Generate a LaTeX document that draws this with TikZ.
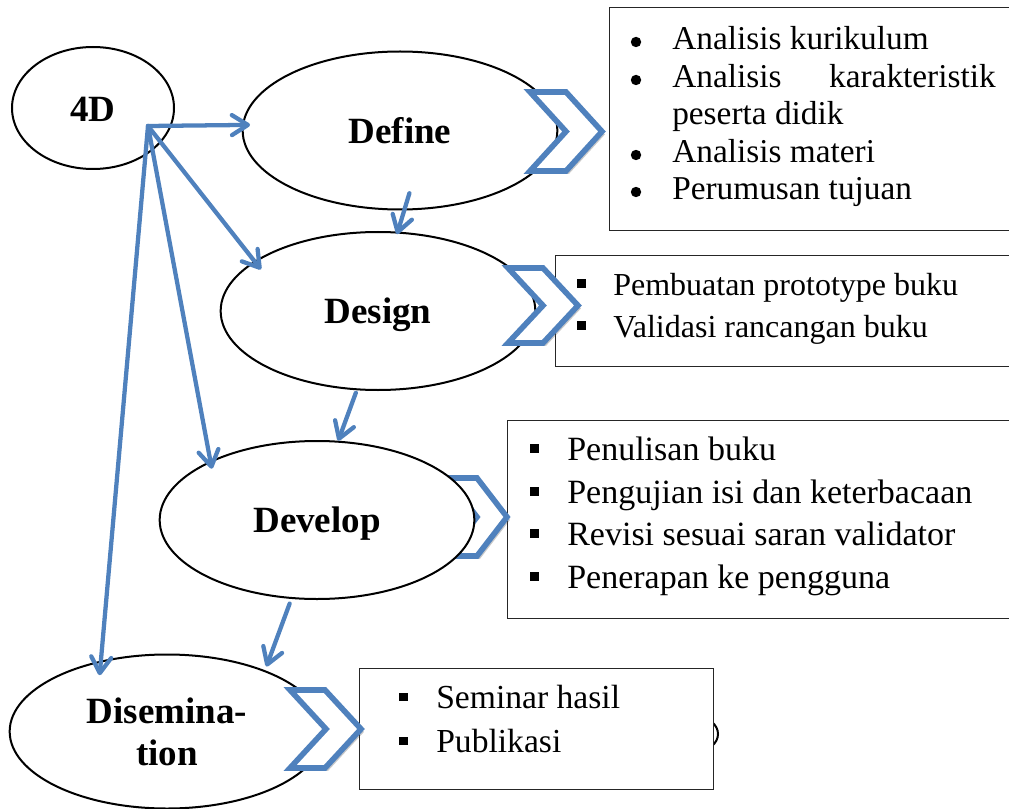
\documentclass[tikz,border=0pt]{standalone}
\usepackage{fontspec}
\setmainfont{Liberation Serif}
\usetikzlibrary{arrows.meta,shapes.geometric,shadows}
\definecolor{stepblue}{HTML}{4F81BD}

% chevron: top-left corner (x,y), width, height, point depth
\newcommand\drawchevron[5]{%
  \draw[chev] (#1,#2) -- ++(#3-#5,0) -- ++(#5,#4/2) -- ++(-#5,#4/2)
    -- ++(-#3+#5,0) -- ++(#5,-#4/2) -- cycle;}

\begin{document}
\begin{tikzpicture}[x=0.75pt,y=-0.75pt,
  phasebase/.style={ellipse, draw=black, line width=1.5pt, fill=white, inner sep=0pt,
    minimum width=236pt, minimum height=118.5pt,
    font=\fontsize{27.75}{31.5}\selectfont\bfseries},
  phase/.style={phasebase, text height=19pt, text depth=0pt},
  listbox/.style={rectangle, draw=black!85, line width=1.1pt, fill=white,
    anchor=north west, inner sep=0pt},
  listitem/.style={anchor=base west, inner sep=0pt},
  conn/.style={draw=stepblue, line width=3.2pt, line cap=round, line join=round,
    -{Straight Barb[length=12pt,width=15pt,round]}},
  chev/.style={draw=stepblue, line width=4.2pt, fill=white,
    drop shadow={shadow xshift=2.2pt, shadow yshift=-2.2pt, opacity=.3, fill=black!70}},
  sq/.style={fill=black},
]
\useasboundingbox (0,0) rectangle (1009,809);

% partly hidden shape behind the last list
\draw[line width=1.5pt, fill=white] (698,734) ellipse [x radius=20, y radius=16.6];

% ---- list boxes ----
\node[listbox, minimum width=315pt, minimum height=167.25pt] (definebox) at (609,7) {};
\begin{scope}[font=\fontsize{25}{30}\selectfont]
  \node[listitem] (d1) at (672,50) {Analisis kurikulum};
  \node[listitem] (d2) at (672,88) {Analisis};
  \node[listitem, anchor=base east] (d2b) at (996,88) {karakteristik};
  \node[listitem] (d3) at (672,125) {peserta didik};
  \node[listitem] (d4) at (672,163) {Analisis materi};
  \node[listitem] (d5) at (672,200) {Perumusan tujuan};
\end{scope}
\foreach \yy in {42,80,155,192} \fill (636,\yy) circle (3.9pt);

\node[listbox, minimum width=360pt, minimum height=83.25pt] (designbox) at (555,255) {};
\begin{scope}[font=\fontsize{24}{28}\selectfont]
  \node[listitem] (g1) at (613,295) {Pembuatan prototype buku};
  \node[listitem] (g2) at (613,337) {Validasi rancangan buku};
\end{scope}
\foreach \yy in {283,325} \fill[sq] (576.5,\yy-4.5) rectangle ++(9,9);

\node[listbox, minimum width=390pt, minimum height=148.5pt] (developbox) at (507,420) {};
\begin{scope}[font=\fontsize{25.5}{30}\selectfont]
  \node[listitem] (v1) at (567,460) {Penulisan buku};
  \node[listitem] (v2) at (567,503) {Pengujian isi dan keterbacaan};
  \node[listitem] (v3) at (567,545) {Revisi sesuai saran validator};
  \node[listitem] (v4) at (567,588) {Penerapan ke pengguna};
\end{scope}
\foreach \yy in {448,491,533,576} \fill[sq] (529.5,\yy-4.5) rectangle ++(9,9);

\node[listbox, minimum width=265.5pt, minimum height=90.75pt] (disbox) at (359,668) {};
\begin{scope}[font=\fontsize{25.2}{30}\selectfont]
  \node[listitem] (s1) at (436,708) {Seminar hasil};
  \node[listitem] (s2) at (436,752) {Publikasi};
\end{scope}
\foreach \yy in {697,741} \fill[sq] (399,\yy-4.5) rectangle ++(8.5,8.5);

% chevron tucked behind the Develop ellipse
\drawchevron{447}{478}{60}{78}{30}

% ---- phases ----
\node[phase, minimum width=121.5pt, minimum height=91.5pt, text height=21pt] (fourd) at (93,108) {4D};
\node[phase] (define) at (400,130.5) {Define};
\node[phase] (design) at (378,311) {Design};
\node[phase] (develop) at (317,520) {Develop};
\node[phasebase, align=center, minimum height=115.5pt] (dis) at (167,731.5) {Disemina-\\tion};

% chevrons leading to the lists
\drawchevron{530}{92}{72}{79}{36}
\drawchevron{508}{268}{70}{75}{35}
\drawchevron{290}{690}{71}{78}{36}

% ---- connectors ----
\coordinate (hub) at ([xshift=41.25pt,yshift=-13.5pt]fourd.center);
\draw[conn, shorten >=-6pt] (hub) -- (define.178.4);
\draw[conn, shorten >=-8pt] (hub) -- (design.158);
\draw[conn, shorten >=-6pt] (hub) -- (develop.151.4);
\draw[conn, shorten >=-11pt] (hub) -- (dis.133.7);
\draw[conn, shorten <=-13.5pt, shorten >=-2pt] (define.273.5) -- (design.76.8);
\draw[conn, shorten <=2pt] (design.255) -- (develop.75);
\draw[conn, shorten <=3.75pt, shorten >=3pt] (develop.252.2) -- (dis.32.1);
\end{tikzpicture}
\end{document}
